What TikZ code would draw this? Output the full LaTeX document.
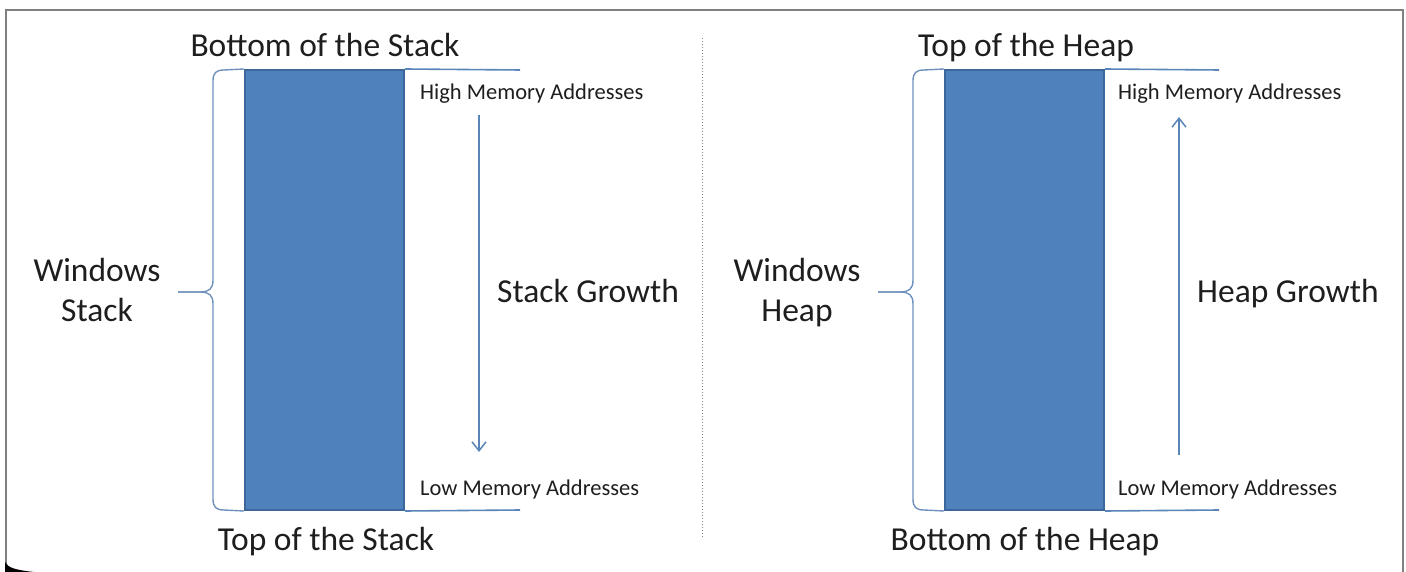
\documentclass[tikz,border=0pt]{standalone}
\usepackage{fontspec}
\setmainfont{Carlito}
\usetikzlibrary{arrows.meta}
\definecolor{boxfill}{HTML}{4F81BD}
\definecolor{boxdraw}{HTML}{3B679B}
\definecolor{linec}{HTML}{5A85B8}
\definecolor{bracec}{HTML}{6E90BC}
\definecolor{txt}{HTML}{1E1E1E}
\definecolor{framec}{HTML}{808080}
\tikzset{
  mem/.style={draw=boxdraw, line width=2pt, fill=boxfill},
  memline/.style={draw=linec, line width=1.6pt},
  bracestyle/.style={draw=bracec, line width=1.4pt},
  growarrow/.style={draw=linec, line width=1.5pt, -{Straight Barb[length=9pt,width=14pt,line width=1.5pt]}},
  bigtxt/.style={text=txt, font=\fontsize{33.5}{33.5}\selectfont, inner sep=0pt, anchor=base},
  smalltxt/.style={text=txt, font=\fontsize{22.5}{22.5}\selectfont, inner sep=0pt, anchor=base west},
}
\begin{document}
\begin{tikzpicture}[x=1pt,y=-1pt]
\useasboundingbox (0,0) rectangle (1406,572);
% frame
\draw[framec, line width=1.5pt] (6,572) -- (6,10) -- (1403,10) -- (1403,572);
\fill[black] (5,562) .. controls (8,568) and (16,570) .. (34,572) -- (5,572) -- cycle;
% divider
\draw[gray, line width=1pt, dotted] (702,38) -- (702,538);

% ---------- Stack ----------
\node[mem, minimum width=159pt, minimum height=440pt, inner sep=0pt] (stack) at (324.5,290) {};
\coordinate (sTopEnd) at (520,70);
\coordinate (sBotEnd) at (520,510);
\draw[memline] (stack.north east) -- (sTopEnd);
\draw[memline] (stack.south east) -- (sBotEnd);
\coordinate (sBraceTip) at (178,292);
\draw[bracestyle] (stack.north west) -- (224,70) .. controls (216,70) and (213,73) .. (213,81)
  -- (213,280) .. controls (213,289) and (209,292) .. (200,292) -- (sBraceTip);
\draw[bracestyle] (sBraceTip) -- (200,292) .. controls (209,292) and (213,295) .. (213,304)
  -- (213,499) .. controls (213,507) and (216,510) .. (224,510) -- (stack.south west);
\node[bigtxt] (sBottomLbl) at (325,57) {Bottom of the Stack};
\node[bigtxt] (sTopLbl) at (326,550) {Top of the Stack};
\node[bigtxt] (sWin1) at (97,282) {Windows};
\node[bigtxt] (sWin2) at (97,321) {Stack};
\node[smalltxt] (sHigh) at (420,100) {High Memory Addresses};
\node[smalltxt] (sLow) at (420,495) {Low Memory Addresses};
\node[bigtxt, anchor=base west] (sGrow) at (497,302) {Stack Growth};
\coordinate (sArrA) at (479,115);
\coordinate (sArrB) at (479,452);
\draw[growarrow] (sArrA) -- (sArrB);

% ---------- Heap ----------
\node[mem, minimum width=159pt, minimum height=440pt, inner sep=0pt] (heap) at (1024.5,290) {};
\coordinate (hTopEnd) at (1219,70);
\coordinate (hBotEnd) at (1219,510);
\draw[memline] (heap.north east) -- (hTopEnd);
\draw[memline] (heap.south east) -- (hBotEnd);
\coordinate (hBraceTip) at (878,292);
\draw[bracestyle] (heap.north west) -- (924,70) .. controls (916,70) and (913,73) .. (913,81)
  -- (913,280) .. controls (913,289) and (909,292) .. (900,292) -- (hBraceTip);
\draw[bracestyle] (hBraceTip) -- (900,292) .. controls (909,292) and (913,295) .. (913,304)
  -- (913,499) .. controls (913,507) and (916,510) .. (924,510) -- (heap.south west);
\node[bigtxt] (hTopLbl) at (1026,57) {Top of the Heap};
\node[bigtxt] (hBottomLbl) at (1025,550) {Bottom of the Heap};
\node[bigtxt] (hWin1) at (797,282) {Windows};
\node[bigtxt] (hWin2) at (797,321) {Heap};
\node[smalltxt] (hHigh) at (1118,100) {High Memory Addresses};
\node[smalltxt] (hLow) at (1118,495) {Low Memory Addresses};
\node[bigtxt, anchor=base west] (hGrow) at (1197,302) {Heap Growth};
\coordinate (hArrA) at (1179,455);
\coordinate (hArrB) at (1179,117);
\draw[growarrow] (hArrA) -- (hArrB);
\end{tikzpicture}
\end{document}
